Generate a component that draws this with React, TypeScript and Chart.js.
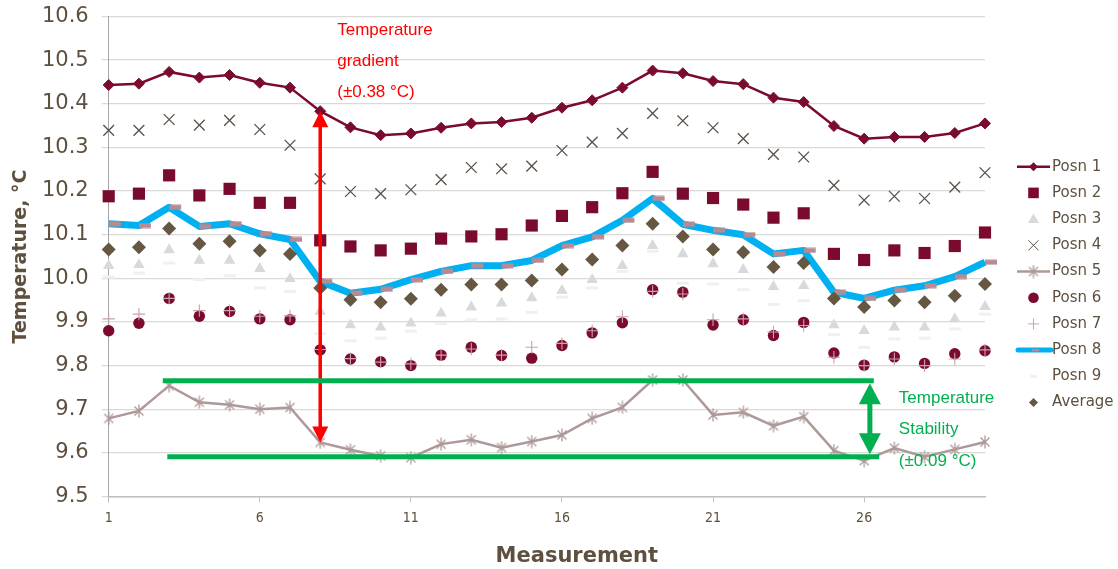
import React, { useEffect, useRef } from 'react';
import { Chart, registerables } from 'chart.js';

Chart.register(...registerables);

// ---- data ----
const measurements = ['1','2','3','4','5','6','7','8','9','10','11','12','13','14','15','16','17','18','19','20','21','22','23','24','25','26','27','28','29','30'];
const labeledMeasurements = ['1', '6', '11', '16', '21', '26'];
const yTicks = [9.5, 9.6, 9.7, 9.8, 9.9, 10.0, 10.1, 10.2, 10.3, 10.4, 10.5, 10.6];

const posn1 = [10.443,10.446,10.473,10.460,10.466,10.448,10.437,10.383,10.346,10.328,10.332,10.345,10.355,10.358,10.368,10.391,10.408,10.437,10.476,10.470,10.452,10.445,10.414,10.404,10.349,10.320,10.324,10.324,10.333,10.355];
const posn2 = [10.188,10.194,10.236,10.190,10.205,10.173,10.173,10.087,10.073,10.064,10.068,10.091,10.096,10.101,10.121,10.143,10.163,10.195,10.244,10.194,10.184,10.169,10.139,10.149,10.056,10.042,10.064,10.058,10.074,10.105];
const posn3 = [10.029,10.031,10.065,10.041,10.041,10.022,9.999,9.924,9.893,9.888,9.897,9.920,9.934,9.943,9.955,9.972,9.997,10.029,10.075,10.056,10.033,10.020,9.981,9.983,9.893,9.880,9.888,9.888,9.907,9.935];
const posn4 = [10.339,10.339,10.364,10.351,10.362,10.341,10.305,10.228,10.199,10.194,10.203,10.226,10.254,10.251,10.257,10.293,10.312,10.332,10.378,10.361,10.345,10.320,10.284,10.278,10.213,10.179,10.188,10.183,10.209,10.242];
const posn5 = [9.679,9.696,9.754,9.716,9.710,9.700,9.704,9.624,9.607,9.593,9.589,9.620,9.630,9.612,9.626,9.641,9.679,9.704,9.767,9.767,9.687,9.693,9.662,9.683,9.605,9.582,9.611,9.591,9.608,9.625];
const posn6 = [9.880,9.897,9.954,9.913,9.924,9.907,9.905,9.836,9.815,9.809,9.800,9.824,9.842,9.823,9.817,9.846,9.875,9.898,9.974,9.968,9.893,9.905,9.869,9.899,9.829,9.801,9.820,9.805,9.827,9.834];
const posn7 = [9.907,9.918,9.954,9.926,9.926,9.913,9.914,9.837,9.816,9.808,9.804,9.824,9.838,9.824,9.842,9.851,9.880,9.912,9.970,9.964,9.905,9.907,9.877,9.892,9.819,9.800,9.815,9.800,9.815,9.836];
const posn8 = [10.125,10.121,10.163,10.119,10.125,10.102,10.089,9.993,9.966,9.975,9.997,10.016,10.029,10.029,10.041,10.075,10.095,10.133,10.183,10.124,10.110,10.100,10.056,10.064,9.968,9.954,9.973,9.983,10.004,10.037];
const posn9 = [10.003,10.012,10.035,9.997,10.006,9.978,9.970,9.873,9.857,9.863,9.879,9.896,9.905,9.907,9.922,9.957,9.978,10.016,10.062,9.989,9.987,9.974,9.940,9.949,9.871,9.842,9.861,9.863,9.884,9.918];
const average = [10.066,10.071,10.114,10.079,10.085,10.064,10.056,9.978,9.951,9.945,9.953,9.974,9.986,9.986,9.995,10.020,10.043,10.075,10.125,10.096,10.066,10.060,10.026,10.035,9.954,9.934,9.949,9.945,9.960,9.987];

const seriesNames = ['Posn 1', 'Posn 2', 'Posn 3', 'Posn 4', 'Posn 5', 'Posn 6', 'Posn 7', 'Posn 8', 'Posn 9', 'Average'];
const xTitle = 'Measurement';
const yTitle = 'Temperature, °C';

// annotations (values in data units)
const gradientMeasurement = 8;
const gradientText = ['Temperature', 'gradient', '(±0.38 °C)'];
const stabilityHigh = 9.765;
const stabilityLow = 9.591;
const stabilityTopFrom = 2.79, stabilityTopTo = 26.32;
const stabilityBotFrom = 2.94, stabilityBotTo = 26.5;
const stabilityArrowAt = 26.19;
const stabilityText = ['Temperature', 'Stability', '(±0.09 °C)'];

// ---- styles ----
const TEXT = '#5E503F';
const MAROON = '#7A0B2C';
const ROSE = '#AE9898';
const LIGHT_ROSE = '#C9A2AA';
const BLUE = '#00B0F0';
const DASH_ROSE = '#B98A91';
const GRAY_TRI = '#D9D9D9';
const XGRAY = '#5A5048';
const AVG = '#665743';
const FAINT = '#F0F0F0';
const GREEN = '#00B050';
const RED = '#FF0000';
const SANS = '"DejaVu Sans", Verdana, sans-serif';
const ARIAL = '"Liberation Sans", Arial, sans-serif';

function mk(w: number, h: number, draw: (g: CanvasRenderingContext2D) => void) {
  const c = document.createElement('canvas');
  c.width = w; c.height = h;
  draw(c.getContext('2d') as CanvasRenderingContext2D);
  return c;
}

function drawArrow(ctx: CanvasRenderingContext2D, x: number, y1: number, y2: number, color: string, shaftW: number, headW: number, headL: number) {
  ctx.save();
  ctx.fillStyle = color; ctx.strokeStyle = color; ctx.lineWidth = shaftW;
  ctx.beginPath(); ctx.moveTo(x, y1 + headL - 1); ctx.lineTo(x, y2 - headL + 1); ctx.stroke();
  ctx.beginPath(); ctx.moveTo(x, y1); ctx.lineTo(x - headW / 2, y1 + headL); ctx.lineTo(x + headW / 2, y1 + headL); ctx.closePath(); ctx.fill();
  ctx.beginPath(); ctx.moveTo(x, y2); ctx.lineTo(x - headW / 2, y2 - headL); ctx.lineTo(x + headW / 2, y2 - headL); ctx.closePath(); ctx.fill();
  ctx.restore();
}

function diamond(ctx: CanvasRenderingContext2D, x: number, y: number, r: number, color: string) {
  ctx.fillStyle = color;
  ctx.beginPath(); ctx.moveTo(x - r, y); ctx.lineTo(x, y - r); ctx.lineTo(x + r, y); ctx.lineTo(x, y + r); ctx.closePath(); ctx.fill();
}

export default function App() {
  const ref = useRef<HTMLCanvasElement>(null);

  useEffect(() => {
    document.body.style.margin = '0';
    const canvas = ref.current as HTMLCanvasElement;

    const asterisk = mk(14, 14, g => {
      g.strokeStyle = ROSE; g.lineWidth = 1.3; g.beginPath();
      g.moveTo(2.5, 2.5); g.lineTo(11.5, 11.5);
      g.moveTo(11.5, 2.5); g.lineTo(2.5, 11.5);
      g.moveTo(7, 0.5); g.lineTo(7, 13.5);
      g.stroke();
    });
    const dash8 = mk(26, 6, g => { g.fillStyle = DASH_ROSE; g.fillRect(13, 0.5, 12, 5); });
    const dash9 = mk(14, 5, g => { g.fillStyle = FAINT; g.fillRect(1, 1, 12, 3); });

    const annotations = {
      id: 'annotations',
      afterDatasetsDraw(chart: any) {
        const ctx = chart.ctx as CanvasRenderingContext2D;
        const xs = chart.scales.x, ys = chart.scales.y;
        const px = (m: number) => xs.getPixelForValue(m - 1);
        // temperature gradient arrow
        const gi = gradientMeasurement - 1;
        const gx = px(gradientMeasurement);
        drawArrow(ctx, gx, ys.getPixelForValue(posn1[gi]), ys.getPixelForValue(posn5[gi]), RED, 3.5, 16, 16);
        ctx.save();
        ctx.font = `17px ${ARIAL}`;
        ctx.textBaseline = 'middle';
        ctx.fillStyle = RED;
        gradientText.forEach((t, k) => ctx.fillText(t, gx + 17, chart.chartArea.top + 14 + k * 31));
        // stability band
        const yH = ys.getPixelForValue(stabilityHigh);
        const yL = ys.getPixelForValue(stabilityLow);
        ctx.strokeStyle = GREEN; ctx.lineWidth = 5;
        ctx.beginPath(); ctx.moveTo(px(stabilityTopFrom), yH); ctx.lineTo(px(stabilityTopTo), yH); ctx.stroke();
        ctx.beginPath(); ctx.moveTo(px(stabilityBotFrom), yL); ctx.lineTo(px(stabilityBotTo), yL); ctx.stroke();
        const ax = px(stabilityArrowAt);
        drawArrow(ctx, ax, yH + 2.5, yL - 2.5, GREEN, 5, 22, 21);
        ctx.fillStyle = GREEN;
        stabilityText.forEach((t, k) => ctx.fillText(t, ax + 29, yH + 17.5 + k * 31.3));
        ctx.restore();
      },
      afterDraw(chart: any) {
        const ctx = chart.ctx as CanvasRenderingContext2D;
        ctx.save();
        // x axis title (sits right of the plot centre in the reference)
        const ca = chart.chartArea;
        ctx.font = `bold 21px ${SANS}`;
        ctx.textAlign = 'center';
        ctx.textBaseline = 'middle';
        ctx.fillStyle = TEXT;
        ctx.fillText(xTitle, (ca.left + ca.right) / 2 + 30, 557);
        ctx.textAlign = 'left';
        // legend
        const x0 = 1017, x1 = 1050, cx = 1033.5;
        seriesNames.forEach((name, k) => {
          const y = 166.7 + k * 26.2;
          switch (k) {
            case 0:
              ctx.strokeStyle = MAROON; ctx.lineWidth = 2.5;
              ctx.beginPath(); ctx.moveTo(x0, y); ctx.lineTo(x1, y); ctx.stroke();
              diamond(ctx, cx, y, 4.5, MAROON);
              break;
            case 1:
              ctx.fillStyle = MAROON; ctx.fillRect(cx - 5.3, y - 5.3, 10.6, 10.6);
              break;
            case 2:
              ctx.fillStyle = GRAY_TRI;
              ctx.beginPath(); ctx.moveTo(cx, y - 5.5); ctx.lineTo(cx + 5.5, y + 4); ctx.lineTo(cx - 5.5, y + 4); ctx.closePath(); ctx.fill();
              break;
            case 3:
              ctx.strokeStyle = XGRAY; ctx.lineWidth = 1;
              ctx.beginPath(); ctx.moveTo(cx - 5, y - 5); ctx.lineTo(cx + 5, y + 5); ctx.moveTo(cx + 5, y - 5); ctx.lineTo(cx - 5, y + 5); ctx.stroke();
              break;
            case 4:
              ctx.strokeStyle = ROSE; ctx.lineWidth = 2.5;
              ctx.beginPath(); ctx.moveTo(x0, y); ctx.lineTo(x1, y); ctx.stroke();
              ctx.drawImage(asterisk, cx - 7, y - 7);
              break;
            case 5:
              ctx.fillStyle = MAROON; ctx.beginPath(); ctx.arc(cx, y, 5.3, 0, Math.PI * 2); ctx.fill();
              break;
            case 6:
              ctx.strokeStyle = LIGHT_ROSE; ctx.lineWidth = 1;
              ctx.beginPath(); ctx.moveTo(cx - 5.5, y); ctx.lineTo(cx + 5.5, y); ctx.moveTo(cx, y - 5.5); ctx.lineTo(cx, y + 5.5); ctx.stroke();
              break;
            case 7:
              ctx.strokeStyle = BLUE; ctx.lineWidth = 5; ctx.lineCap = 'round';
              ctx.beginPath(); ctx.moveTo(x0 + 1, y); ctx.lineTo(x1 + 1, y); ctx.stroke();
              ctx.lineCap = 'butt';
              ctx.fillStyle = DASH_ROSE; ctx.fillRect(cx - 1.5, y - 1.2, 7, 2.4);
              break;
            case 8:
              ctx.fillStyle = FAINT; ctx.fillRect(cx - 3.5, y - 1.5, 7, 3);
              break;
            case 9:
              diamond(ctx, cx, y, 4.5, AVG);
              break;
          }
          ctx.font = `15px ${SANS}`;
          ctx.textBaseline = 'middle';
          ctx.fillStyle = TEXT;
          ctx.fillText(name, 1052, y);
        });
        ctx.restore();
      },
    };

    const scatter = (label: string, data: number[], extra: any, order: number) => ({
      label, data, showLine: false, borderWidth: 0, clip: false, order, ...extra,
    });

    const chart = new Chart(canvas, {
      type: 'line',
      data: {
        labels: measurements,
        datasets: [
          { label: seriesNames[0], data: posn1, order: 10, clip: false, borderColor: MAROON, borderWidth: 2.5, tension: 0,
            pointStyle: 'rectRot', pointRadius: 5.5, pointBackgroundColor: MAROON, pointBorderColor: MAROON, pointBorderWidth: 1 },
          scatter(seriesNames[1], posn2, { pointStyle: 'rect', pointRadius: 8.6, pointBackgroundColor: MAROON, pointBorderWidth: 0, borderColor: MAROON }, 9),
          scatter(seriesNames[2], posn3, { pointStyle: 'triangle', pointRadius: 6.6, pointBackgroundColor: GRAY_TRI, pointBorderWidth: 0, borderColor: GRAY_TRI }, 8),
          scatter(seriesNames[3], posn4, { pointStyle: 'crossRot', pointRadius: 7.6, pointBorderColor: XGRAY, pointBorderWidth: 1.3, borderColor: XGRAY }, 7),
          { label: seriesNames[4], data: posn5, order: 6, clip: false, borderColor: ROSE, borderWidth: 2.5, tension: 0,
            pointStyle: asterisk, pointRadius: 7 },
          scatter(seriesNames[5], posn6, { pointStyle: 'circle', pointRadius: 5.7, pointBackgroundColor: MAROON, pointBorderWidth: 0, borderColor: MAROON }, 5),
          scatter(seriesNames[6], posn7, { pointStyle: 'cross', pointRadius: 6.2, pointBorderColor: LIGHT_ROSE, pointBorderWidth: 1.1, borderColor: LIGHT_ROSE }, 4),
          { label: seriesNames[7], data: posn8, order: 3, clip: false, borderColor: BLUE, borderWidth: 7, tension: 0,
            borderJoinStyle: 'round', pointStyle: dash8, pointRadius: 7 },
          scatter(seriesNames[8], posn9, { pointStyle: dash9, pointRadius: 7 }, 2),
          scatter(seriesNames[9], average, { pointStyle: 'rectRot', pointRadius: 7, pointBackgroundColor: AVG, pointBorderWidth: 0, borderColor: AVG }, 1),
        ] as any,
      },
      options: {
        responsive: false,
        animation: false,
        events: [],
        layout: { padding: { top: 16.5, right: 133, left: 0, bottom: 0 } },
        plugins: { legend: { display: false }, tooltip: { enabled: false } },
        scales: {
          x: {
            type: 'category',
            offset: false,
            grid: { drawOnChartArea: false, drawTicks: true, tickLength: 6, color: '#BFBFBF', lineWidth: 1 },
            border: { color: '#BFBFBF', width: 1.5 },
            ticks: {
              autoSkip: false, maxRotation: 0, minRotation: 0, padding: 7, color: TEXT,
              font: { family: '"DejaVu Sans Condensed", "DejaVu Sans", sans-serif', size: 14 },
              callback: (_v: any, i: number) => (labeledMeasurements.includes(measurements[i]) ? measurements[i] : null),
            },
            title: { display: false },
            afterFit: (s: any) => { s.height = 72.5; s.paddingLeft = 0; s.paddingRight = 0; },
          },
          y: {
            min: 9.5, max: 10.6,
            afterBuildTicks: (s: any) => { s.ticks = yTicks.map(v => ({ value: v })); },
            grid: { color: '#D9D9D9', lineWidth: 1.3, tickLength: 7 },
            border: { color: '#A6A6A6', width: 1 },
            ticks: { padding: 13, color: TEXT, font: { family: SANS, size: 21 }, callback: (v: any) => Number(v).toFixed(1) },
            title: { display: true, text: yTitle, color: TEXT, font: { family: SANS, size: 19, weight: 'bold' }, padding: { top: 10, bottom: 0 } },
            afterFit: (s: any) => { s.width = 108.7; s.paddingTop = 0; s.paddingBottom = 0; },
          },
        },
      } as any,
      plugins: [annotations],
    });

    return () => chart.destroy();
  }, []);

  return <canvas ref={ref} width={1118} height={569} style={{ display: 'block' }} />;
}
